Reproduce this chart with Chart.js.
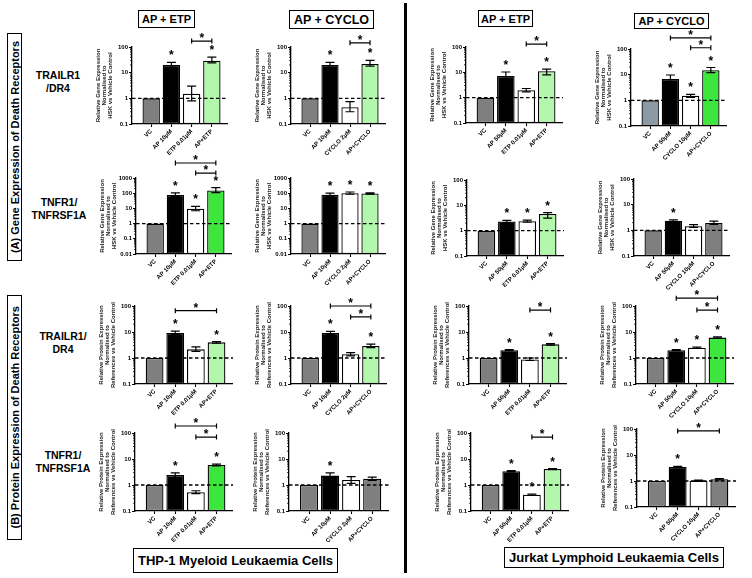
<!DOCTYPE html>
<html><head><meta charset="utf-8">
<script src="https://cdn.jsdelivr.net/npm/chart.js@4"></script>
<style>
body{margin:0;width:752px;height:578px;position:relative;background:#fff;overflow:hidden;font-family:"Liberation Sans",Arial,sans-serif;color:#000}
canvas{position:absolute}
.box{position:absolute;border:1.5px solid #000;box-sizing:border-box;display:flex;align-items:center;justify-content:center;font-weight:bold;white-space:nowrap}
.vbox{position:absolute;border:1.5px solid #000;box-sizing:border-box;display:flex;align-items:center;justify-content:center;font-weight:bold;font-size:11px;white-space:nowrap}
.vbox span{writing-mode:vertical-rl;transform:rotate(180deg)}
.lbl{position:absolute;width:80px;text-align:center;font-weight:bold;font-size:10.5px;line-height:13px}
</style></head><body>
<div class="box" style="left:138px;top:10px;width:57px;height:18px;font-size:11px">AP + ETP</div>
<div class="box" style="left:289px;top:10px;width:85px;height:19px;font-size:12.5px">AP + CYCLO</div>
<div class="box" style="left:478px;top:10px;width:55px;height:17px;font-size:11px">AP + ETP</div>
<div class="box" style="left:634px;top:13px;width:75px;height:16px;font-size:11px">AP + CYCLO</div>
<div class="box" style="left:133px;top:548px;width:205px;height:25px;font-size:13px">THP-1 Myeloid Leukaemia Cells</div>
<div class="box" style="left:504px;top:547px;width:220px;height:21px;font-size:13px">Jurkat Lymphoid Leukaemia Cells</div>
<div style="position:absolute;left:404px;top:3px;width:3px;height:570px;background:#000"></div>
<div class="vbox" style="left:7px;top:33px;width:15px;height:228px"><span>(A) Gene Expression of Death Receptors</span></div>
<div class="vbox" style="left:7px;top:295px;width:15px;height:245px"><span>(B) Protein Expression of Death Receptors</span></div>
<div class="lbl" style="left:18px;top:69px">TRAILR1<br>/DR4</div>
<div class="lbl" style="left:19px;top:196px">TNFR1/<br>TNFRSF1A</div>
<div class="lbl" style="left:23px;top:330px">TRAILR1/<br>DR4</div>
<div class="lbl" style="left:23px;top:449px">TNFR1/<br>TNFRSF1A</div>
<script>
// ---- categories ----
const thpEtpCats = ['VC','AP 10µM','ETP 0.01µM','AP+ETP'];
const thpCycCats = ['VC','AP 10µM','CYCLO 2µM','AP+CYCLO'];
const jurEtpCats = ['VC','AP 50µM','ETP 0.01µM','AP+ETP'];
const jurCycCats = ['VC','AP 50µM','CYCLO 10µM','AP+CYCLO'];
// ---- y axis titles ----
const geneTitle = ['Relative Gene Expression','Normalised to','HSK vs Vehicle Control'];
const protTitle = ['Relative Protein Expression','Normalised to','References vs Vehicle Control'];
// ---- y tick values / labels ----
const ticksA = [0.1, 1, 10, 100];
const ticksALabels = ['0.1','1','10','100'];
const ticksB = [0.01, 0.1, 1, 10, 100, 1000];
const ticksBLabels = ['0.01','0.1','1','10','100','1000'];
// ---- values (mean, upper error, lower error) ----
const gTrailThpEtp = [1, 20, 1.5, 29],   gTrailThpEtpHi = [1, 25, 3.0, 40],   gTrailThpEtpLo = [1, 16, 0.8, 24];
const gTrailThpCyc = [1, 20, 0.45, 22],  gTrailThpCycHi = [1, 25, 0.75, 30],  gTrailThpCycLo = [1, 16, 0.3, 18];
const gTrailJurEtp = [1, 7.2, 1.95, 11], gTrailJurEtpHi = [1, 10.3, 2.3, 13.5], gTrailJurEtpLo = [1, 5, 1.7, 8];
const gTrailJurCyc = [1, 6.8, 1.5, 15],  gTrailJurCycHi = [1, 9.7, 1.7, 19],  gTrailJurCycLo = [1, 4.5, 1.3, 12];
const gTnfThpEtp = [1, 77, 9.5, 150],    gTnfThpEtpHi = [1, 105, 13.5, 230],  gTnfThpEtpLo = [1, 60, 7, 110];
const gTnfThpCyc = [1, 78, 100, 95],     gTnfThpCycHi = [1, 100, 120, 105],   gTnfThpCycLo = [1, 62, 85, 88];
const gTnfJurEtp = [1, 2.3, 2.35, 4.6],  gTnfJurEtpHi = [1, 2.55, 2.6, 5.2],  gTnfJurEtpLo = [1, 2.1, 2.15, 3.1];
const gTnfJurCyc = [1, 2.35, 1.45, 1.95],gTnfJurCycHi = [1, 2.55, 1.68, 2.27],gTnfJurCycLo = [1, 2.15, 1.3, 1.7];
const pTrailThpEtp = [1, 9.2, 2.15, 4.0],pTrailThpEtpHi = [1, 10.8, 2.7, 4.3],pTrailThpEtpLo = [1, 8, 1.8, 3.7];
const pTrailThpCyc = [1, 9.2, 1.4, 2.9], pTrailThpCycHi = [1, 10.5, 1.6, 3.4],pTrailThpCycLo = [1, 8, 1.2, 2.5];
const pTrailJurEtp = [1, 2.0, 0.88, 3.35],pTrailJurEtpHi = [1, 2.1, 1.0, 3.55],pTrailJurEtpLo = [1, 1.9, 0.8, 3.15];
const pTrailJurCyc = [1, 2.0, 2.5, 6.1], pTrailJurCycHi = [1, 2.1, 2.65, 6.5],pTrailJurCycLo = [1, 1.9, 2.35, 5.7];
const pTnfThpEtp = [1, 2.4, 0.53, 5.9],  pTnfThpEtpHi = [1, 2.95, 0.6, 6.4],  pTnfThpEtpLo = [1, 1.9, 0.47, 5.4];
const pTnfThpCyc = [1, 2.3, 1.55, 1.75], pTnfThpCycHi = [1, 2.95, 2.1, 2.0],  pTnfThpCycLo = [1, 1.8, 1.15, 1.5];
const pTnfJurEtp = [1, 3.4, 0.42, 4.1],  pTnfJurEtpHi = [1, 3.6, 0.45, 4.3],  pTnfJurEtpLo = [1, 3.2, 0.4, 3.9];
const pTnfJurCyc = [1, 3.45, 1.03, 1.17],pTnfJurCycHi = [1, 3.65, 1.08, 1.25],pTnfJurCycLo = [1, 3.25, 0.98, 1.1];
// ---- significance: stars (1 = *) and brackets [from, to, height value] ----
const starsA = [0,1,0,1], starsB = [0,1,1,1], starsC = [0,1,0,0];
const brGTrailThpEtp = [[2,3,170]], brGTrailThpCyc = [[2,3,145]], brGTrailJurEtp = [[2,3,130]];
const brGTrailJurCyc = [[1,3,270],[2,3,112]];
const brGTnfThpEtp = [[1,3,9700],[2,3,2100]];
const brPTrailThpEtp = [[1,3,66]], brPTrailThpCyc = [[1,3,100],[2,3,38]], brPTrailJurEtp = [[2,3,70]];
const brPTrailJurCyc = [[1,3,200],[2,3,70]];
const brPTnfThpEtp = [[1,3,186],[2,3,70]], brPTnfJurEtp = [[2,3,70]], brPTnfJurCyc = [[1,3,84]];

// ---- styles ----
const GRAY='#7f7f7f', BLUEGRAY='#8a99a4', BLACK='#000000', WHITE='#ffffff', LGREEN='#b3f7ac', GREEN='#3de63d';
const colsL = [GRAY,BLACK,WHITE,LGREEN], colsG = [GRAY,BLACK,WHITE,GREEN], colsGr = [GRAY,BLACK,WHITE,GRAY], colsBG = [BLUEGRAY,BLACK,WHITE,GREEN];

// panel: [cats, vals, hi, lo, stars, brackets, yTicks, yLabels, title, colors, layout(left,right,top,bottom)]
const panels = [
 [thpEtpCats, gTrailThpEtp, gTrailThpEtpHi, gTrailThpEtpLo, starsA, brGTrailThpEtp, ticksA, ticksALabels, geneTitle, colsL, [132,227,47,124]],
 [thpCycCats, gTrailThpCyc, gTrailThpCycHi, gTrailThpCycLo, starsA, brGTrailThpCyc, ticksA, ticksALabels, geneTitle, colsL, [291,385,47,124]],
 [jurEtpCats, gTrailJurEtp, gTrailJurEtpHi, gTrailJurEtpLo, starsA, brGTrailJurEtp, ticksA, ticksALabels, geneTitle, colsL, [466,562,47,123]],
 [jurCycCats, gTrailJurCyc, gTrailJurCycHi, gTrailJurCycLo, starsB, brGTrailJurCyc, ticksA, ticksALabels, geneTitle, colsBG, [631,726,49,126]],
 [thpEtpCats, gTnfThpEtp, gTnfThpEtpHi, gTnfThpEtpLo, starsB, brGTnfThpEtp, ticksB, ticksBLabels, geneTitle, colsG, [136,231,178,254]],
 [thpCycCats, gTnfThpCyc, gTnfThpCycHi, gTnfThpCycLo, starsB, [], ticksB, ticksBLabels, geneTitle, colsL, [291,385,178,254]],
 [jurEtpCats, gTnfJurEtp, gTnfJurEtpHi, gTnfJurEtpLo, starsB, [], ticksA, ticksALabels, geneTitle, colsL, [467,563,180,256]],
 [jurCycCats, gTnfJurCyc, gTnfJurCycHi, gTnfJurCycLo, starsC, [], ticksA, ticksALabels, geneTitle, colsGr, [634,729,179,256]],
 [thpEtpCats, pTrailThpEtp, pTrailThpEtpHi, pTrailThpEtpLo, starsA, brPTrailThpEtp, ticksA, ticksALabels, protTitle, colsL, [135,232,306,384]],
 [thpCycCats, pTrailThpCyc, pTrailThpCycHi, pTrailThpCycLo, starsA, brPTrailThpCyc, ticksA, ticksALabels, protTitle, colsL, [291,386,306,384]],
 [jurEtpCats, pTrailJurEtp, pTrailJurEtpHi, pTrailJurEtpLo, starsA, brPTrailJurEtp, ticksA, ticksALabels, protTitle, colsL, [469,566,306,384]],
 [jurCycCats, pTrailJurCyc, pTrailJurCycHi, pTrailJurCycLo, starsB, brPTrailJurCyc, ticksA, ticksALabels, protTitle, colsG, [636,733,306,384]],
 [thpEtpCats, pTnfThpEtp, pTnfThpEtpHi, pTnfThpEtpLo, starsA, brPTnfThpEtp, ticksA, ticksALabels, protTitle, colsG, [135,232,433,511]],
 [thpCycCats, pTnfThpCyc, pTnfThpCycHi, pTnfThpCycLo, starsC, [], ticksA, ticksALabels, protTitle, colsGr, [289,388,433,511]],
 [jurEtpCats, pTnfJurEtp, pTnfJurEtpHi, pTnfJurEtpLo, starsB, brPTnfJurEtp, ticksA, ticksALabels, protTitle, colsL, [471,568,433,511]],
 [jurCycCats, pTnfJurCyc, pTnfJurCycHi, pTnfJurCycLo, starsC, brPTnfJurCyc, ticksA, ticksALabels, protTitle, colsGr, [637,735,429,507]]
];

const FONT = '"Liberation Sans", Arial, sans-serif';
const PADL = 37, PADT = 32, PADB = 48, PADR = 4;

function makeDeco(vals, hi, lo, stars, brackets, yTicks) {
  return {
    id: 'deco',
    afterDatasetsDraw(chart) {
      const ctx = chart.ctx, y = chart.scales.y, ca = chart.chartArea;
      const meta = chart.getDatasetMeta(0);
      ctx.save();
      ctx.strokeStyle = '#000'; ctx.lineWidth = 1.2;
      // error bars
      meta.data.forEach((bar, i) => {
        if (hi[i] === vals[i] && lo[i] === vals[i]) return;
        const cx = bar.x, yh = y.getPixelForValue(hi[i]), yl = y.getPixelForValue(lo[i]);
        ctx.beginPath();
        ctx.moveTo(cx, yh); ctx.lineTo(cx, yl);
        ctx.moveTo(cx - 4.5, yh); ctx.lineTo(cx + 4.5, yh);
        ctx.moveTo(cx - 4.5, yl); ctx.lineTo(cx + 4.5, yl);
        ctx.stroke();
      });
      // dashed reference line at 1
      const y1 = y.getPixelForValue(1);
      ctx.setLineDash([3.5, 2.5]); ctx.lineWidth = 1.3;
      ctx.beginPath(); ctx.moveTo(ca.left, y1); ctx.lineTo(ca.right + 1, y1); ctx.stroke();
      ctx.setLineDash([]);
      // minor log ticks
      ctx.lineWidth = 0.8;
      ctx.beginPath();
      for (let t = 0; t < yTicks.length - 1; t++) {
        for (let k = 2; k <= 9; k++) {
          const py = y.getPixelForValue(yTicks[t] * k);
          ctx.moveTo(ca.left, py); ctx.lineTo(ca.left - 2, py);
        }
      }
      ctx.stroke();
      // stars
      ctx.fillStyle = '#000';
      ctx.font = 'bold 12px ' + FONT; ctx.textAlign = 'center'; ctx.textBaseline = 'alphabetic';
      meta.data.forEach((bar, i) => {
        if (stars[i]) ctx.fillText('*', bar.x, y.getPixelForValue(hi[i]) - 3);
      });
      // brackets
      ctx.lineWidth = 1.2;
      brackets.forEach(([a, b, v]) => {
        const xa = meta.data[a].x, xb = meta.data[b].x, yy = y.getPixelForValue(v);
        ctx.beginPath();
        ctx.moveTo(xa, yy); ctx.lineTo(xb, yy);
        ctx.moveTo(xa, yy - 2.5); ctx.lineTo(xa, yy + 2.5);
        ctx.moveTo(xb, yy - 2.5); ctx.lineTo(xb, yy + 2.5);
        ctx.stroke();
        ctx.fillText('*', (xa + xb) / 2, yy + 1);
      });
      ctx.restore();
    }
  };
}

panels.forEach(([cats, vals, hi, lo, stars, brackets, yTicks, yLabels, title, cols, lay]) => {
  const [L, R, T, B] = lay;
  const cv = document.createElement('canvas');
  const w = Math.round(R - L + PADL + PADR), h = Math.round(B - T + PADT + PADB);
  cv.width = w; cv.height = h;
  cv.style.left = Math.round(L - PADL) + 'px';
  cv.style.top = Math.round(T - PADT) + 'px';
  cv.style.width = w + 'px'; cv.style.height = h + 'px';
  document.body.appendChild(cv);
  new Chart(cv, {
    type: 'bar',
    data: {
      datasets: [{
        data: vals.map((v, i) => ({x: i, y: v})),
        backgroundColor: cols,
        borderColor: '#000',
        borderWidth: 1.3,
        borderSkipped: false,
        barPercentage: 0.86,
        categoryPercentage: 1
      }]
    },
    options: {
      responsive: false, animation: false, devicePixelRatio: 1,
      layout: {padding: {top: PADT, right: PADR, left: 0, bottom: 0}},
      plugins: {legend: {display: false}, tooltip: {enabled: false}},
      scales: {
        x: {
          type: 'linear', min: -0.95, max: 3.75, offset: false,
          afterBuildTicks: s => { s.ticks = cats.map((c, i) => ({value: i})); },
          afterFit: s => { s.height = PADB; },
          grid: {display: true, offset: false, drawOnChartArea: false, drawTicks: true, tickLength: 3, tickColor: '#000', tickWidth: 1.1},
          border: {display: true, color: '#000', width: 1.3},
          ticks: {autoSkip: false, minRotation: 45, maxRotation: 45, padding: 1, color: '#000',
                  font: {family: FONT, size: 6, weight: 'bold'},
                  callback: (v, i) => cats[i]}
        },
        y: {
          type: 'logarithmic', min: yTicks[0], max: yTicks[yTicks.length - 1],
          afterBuildTicks: s => { s.ticks = yTicks.map(v => ({value: v, major: true})); },
          afterFit: s => { s.width = PADL; },
          grid: {display: true, drawOnChartArea: false, drawTicks: true, tickLength: 3, tickColor: '#000', tickWidth: 1.1},
          border: {display: true, color: '#000', width: 1.3},
          ticks: {autoSkip: false, padding: 1, color: '#000',
                  font: {family: FONT, size: 6, weight: 'bold'},
                  callback: (v, i) => yLabels[i]},
          title: {display: true, text: title, color: '#222', padding: 0,
                  font: {family: FONT, size: 6, weight: 'bold', lineHeight: 1.05}}
        }
      }
    },
    plugins: [makeDeco(vals, hi, lo, stars, brackets, yTicks)]
  });
});
</script>
</body></html>
